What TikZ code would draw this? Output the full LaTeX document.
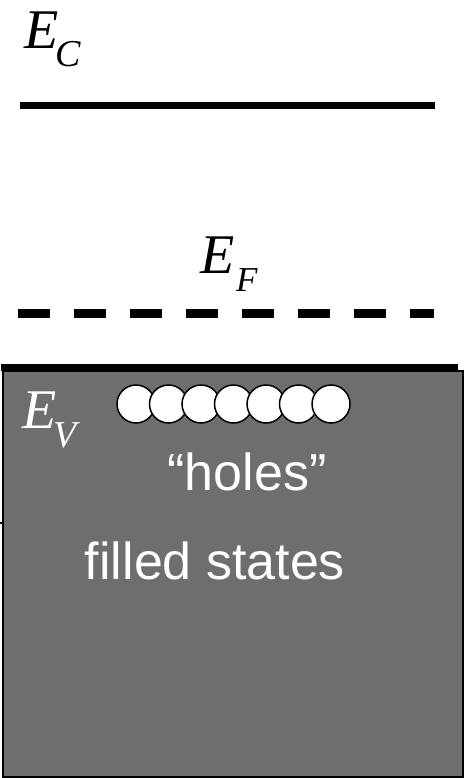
\documentclass[tikz,border=0pt]{standalone}
\usepackage{fontspec}
\newfontfamily\serifit{Liberation Serif}
\newfontfamily\arialsans{Liberation Sans}
\definecolor{bandgray}{HTML}{6E6E6E}

\tikzset{
  bigE/.style={inner sep=0, anchor=base west, font=\serifit\itshape\fontsize{56}{60}\selectfont},
  subE/.style={inner sep=0, anchor=base west, font=\serifit\itshape\fontsize{38}{40}\selectfont},
  label/.style={inner sep=0, anchor=base, text=white, font=\arialsans\fontsize{52}{56}\selectfont},
  hole/.style={circle, draw, fill=white, line width=1.5pt, minimum size=38pt, inner sep=0}
}

\begin{document}
\begin{tikzpicture}[x=1pt, y=-1pt]
  \useasboundingbox (0,0) rectangle (466,778);
  % valence band
  \draw[fill=bandgray, line width=2pt] (3,371) rectangle (463,777);
  \coordinate (vl) at (1,367);
  \coordinate (vr) at (458,367);
  \draw[line width=7pt] (vl) -- (vr);
  \coordinate (tk) at (0,523);
  \draw[line width=1.5pt] (tk) -- ++(3,0);
  % conduction band
  \coordinate (cl) at (20,106);
  \coordinate (cr) at (435,106);
  \draw[line width=7pt] (cl) -- (cr);
  % Fermi level
  \coordinate (fl) at (18,313);
  \coordinate (fr) at (434,313);
  \draw[line width=9pt, dash pattern=on 32pt off 24pt] (fl) -- (fr);
  % labels
  \node[bigE] (ec) at (24,49) {E};
  \node[subE] (ecs) at (55,67) {C};
  \node[bigE] (ef) at (200,273) {E};
  \node[subE, font=\serifit\itshape\fontsize{35}{38}\selectfont] (efs) at (236,291) {F};
  \node[bigE, text=white] (ev) at (22,428) {E};
  \node[subE, text=white] (evs) at (53,447) {V};
  % holes
  \foreach \i in {0,...,6}
    \node[hole] (h\i) at (136+32.5*\i,404) {};
  \node[label] (holes) at (247,490) {“holes”};
  \node[label] (filled) at (215,579) {filled states};
\end{tikzpicture}
\end{document}
